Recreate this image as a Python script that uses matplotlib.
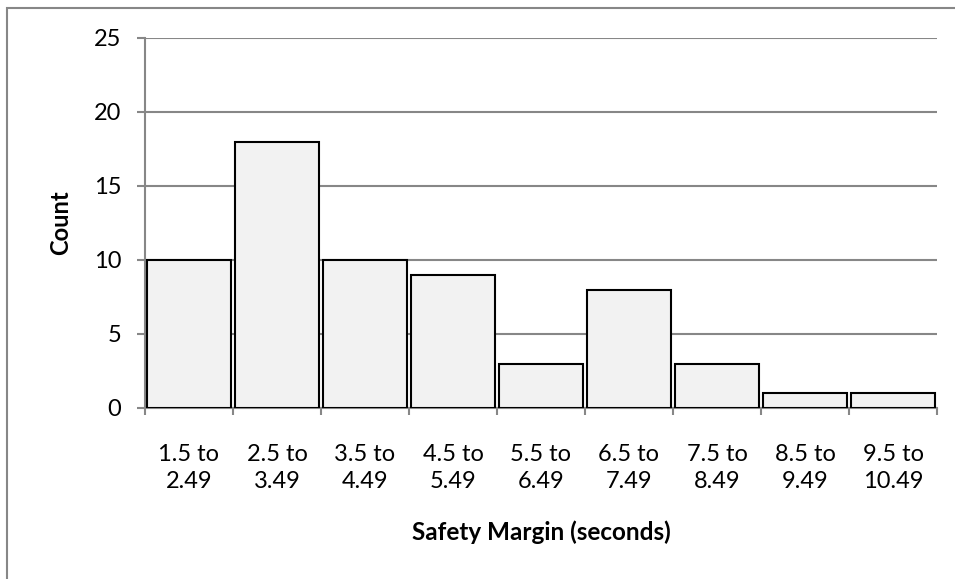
import matplotlib
matplotlib.use("Agg")
import matplotlib.pyplot as plt
from matplotlib.patches import Rectangle

plt.rcParams['font.family'] = ['Lato', 'DejaVu Sans']

# data
bins = ["1.5 to\n2.49", "2.5 to\n3.49", "3.5 to\n4.49", "4.5 to\n5.49", "5.5 to\n6.49",
        "6.5 to\n7.49", "7.5 to\n8.49", "8.5 to\n9.49", "9.5 to\n10.49"]
counts = [10, 18, 10, 9, 3, 8, 3, 1, 1]
yticks = [0, 5, 10, 15, 20, 25]

W, H = 955, 579
fig = plt.figure(figsize=(W / 100, H / 100), dpi=100)
ax = fig.add_axes([145 / W, 1 - 408 / H, (937 - 145) / W, (408 - 38) / H])

grid_c = "#878787"

# outer frame (only top and left visible in the original crop)
fig.patches.append(Rectangle((7 / W, -0.1), 1.2, 1 - 8 / H + 0.1, transform=fig.transFigure,
                             fill=False, edgecolor=grid_c, linewidth=1.5, zorder=0))

x = range(len(counts))
ax.bar(x, counts, width=0.955, color="#f2f2f2", edgecolor="black", linewidth=1.5, zorder=3)

ax.set_xlim(-0.5, len(counts) - 0.5)
ax.set_ylim(0, 25)
ax.set_yticks(yticks)
ax.yaxis.grid(True, color=grid_c, linewidth=1.5, zorder=0)

ax.set_xticks([i - 0.5 for i in range(len(counts) + 1)])
ax.set_xticklabels([])
ax.set_xticks(list(x), minor=True)
ax.set_xticklabels(bins, minor=True, fontsize=17, linespacing=1.33)
ax.tick_params(axis="x", which="minor", length=0, pad=26)
ax.tick_params(axis="x", which="major", length=5, width=1.5, color=grid_c)
ax.tick_params(axis="y", length=6, width=1.5, color=grid_c, labelsize=17, pad=11)

for s in ["top", "right"]:
    ax.spines[s].set_visible(False)
for s in ["left", "bottom"]:
    ax.spines[s].set_color(grid_c)
    ax.spines[s].set_linewidth(1.5)

ax.set_xlabel("Safety Margin (seconds)", fontsize=17.5, fontweight="bold", labelpad=21)
ax.set_ylabel("Count", fontsize=17, fontweight="bold", labelpad=16)

fig.savefig("out.png", dpi=100)
